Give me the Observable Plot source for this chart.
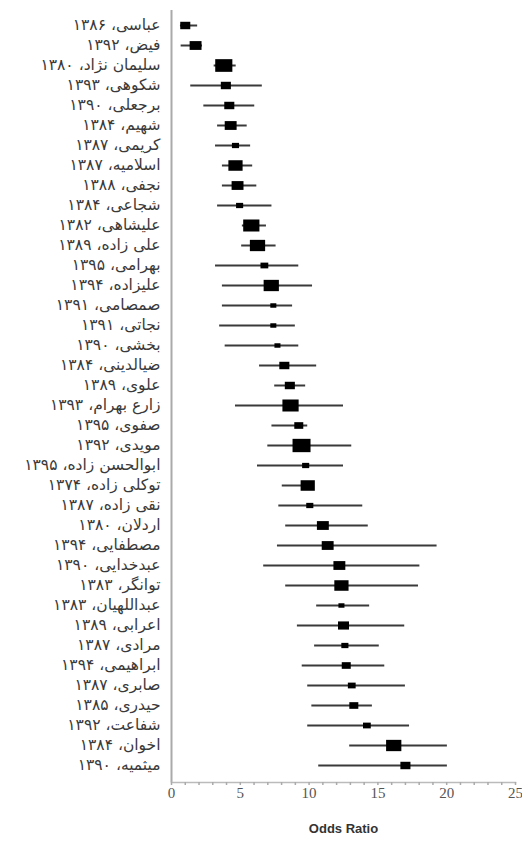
<!DOCTYPE html>
<html>
<head>
<meta charset="utf-8">
<script src="https://cdn.jsdelivr.net/npm/d3@7"></script>
<script src="https://cdn.jsdelivr.net/npm/@observablehq/plot@0.6"></script>
<style>
  html, body { margin: 0; padding: 0; background: #fff; }
  #chart svg { display: block; }
</style>
</head>
<body>
<div id="chart"></div>
<script>
const studies = [
  "عباسی، ۱۳۸۶", "فیض، ۱۳۹۲", "سلیمان نژاد، ۱۳۸۰", "شکوهی، ۱۳۹۳", "برجعلی، ۱۳۹۰",
  "شهیم، ۱۳۸۴", "کریمی، ۱۳۸۷", "اسلامیه، ۱۳۸۷", "نجفی، ۱۳۸۸", "شجاعی، ۱۳۸۴",
  "علیشاهی، ۱۳۸۲", "علی زاده، ۱۳۸۹", "بهرامی، ۱۳۹۵", "علیزاده، ۱۳۹۴", "صمصامی، ۱۳۹۱",
  "نجاتی، ۱۳۹۱", "بخشی، ۱۳۹۰", "ضیالدینی، ۱۳۸۴", "علوی، ۱۳۸۹", "زارع بهرام، ۱۳۹۳",
  "صفوی، ۱۳۹۵", "مویدی، ۱۳۹۲", "ابوالحسن زاده، ۱۳۹۵", "توکلی زاده، ۱۳۷۴", "نقی زاده، ۱۳۸۷",
  "اردلان، ۱۳۸۰", "مصطفایی، ۱۳۹۴", "عبدخدایی، ۱۳۹۰", "توانگر، ۱۳۸۳", "عبداللهیان، ۱۳۸۳",
  "اعرابی، ۱۳۸۹", "مرادی، ۱۳۸۷", "ابراهیمی، ۱۳۹۴", "صابری، ۱۳۸۷", "حیدری، ۱۳۸۵",
  "شفاعت، ۱۳۹۲", "اخوان، ۱۳۸۴", "میثمیه، ۱۳۹۰"
];
const estimate = [
  1.0, 1.75, 3.8, 3.95, 4.2, 4.3, 4.65, 4.65, 4.8, 4.95,
  5.8, 6.25, 6.75, 7.25, 7.4, 7.4, 7.7, 8.2, 8.6, 8.65,
  9.25, 9.45, 9.75, 9.9, 10.05, 11.0, 11.35, 12.2, 12.35, 12.35,
  12.5, 12.6, 12.7, 13.1, 13.25, 14.2, 16.15, 17.0
];
const lower = [
  0.65, 0.7, 3.1, 1.4, 2.35, 3.35, 3.2, 3.7, 3.7, 3.35,
  5.15, 5.1, 3.2, 3.7, 3.7, 3.5, 3.9, 6.4, 7.5, 4.65,
  7.3, 7.0, 6.25, 8.05, 7.8, 8.3, 7.7, 6.7, 8.3, 10.55,
  9.15, 10.4, 9.5, 9.9, 10.2, 9.9, 12.95, 10.7
];
const upper = [
  1.9, 2.25, 4.7, 6.6, 6.05, 5.5, 5.75, 5.9, 6.2, 7.3,
  6.9, 7.6, 9.25, 10.25, 8.8, 9.0, 9.25, 10.55, 9.75, 12.5,
  9.9, 13.1, 12.5, 10.3, 13.9, 14.3, 19.3, 18.05, 17.95, 14.4,
  16.95, 15.1, 15.5, 17.0, 14.6, 17.3, 20.05, 20.05
];
const weight = [
  1.0, 1.4, 2.9, 1.0, 1.0, 1.4, 0.5, 2.0, 1.4, 0.5,
  2.6, 2.3, 0.6, 2.3, 0.36, 0.36, 0.36, 1.0, 1.0, 2.6,
  0.8, 3.2, 0.5, 2.0, 0.5, 1.4, 1.4, 1.4, 2.0, 0.36,
  1.2, 0.5, 0.8, 0.6, 0.8, 0.6, 2.3, 1.0
];
const xTicks = [0, 5, 10, 15, 20, 25];

const rows = studies.map((s, i) => ({
  study: s, est: estimate[i], lo: lower[i], hi: upper[i], w: weight[i]
}));

// wide rectangle marker (boxes in the reference are wider than tall)
const boxSymbol = {
  draw(context, size) {
    const w = Math.sqrt(size * 1.35), h = size / w;
    context.rect(-w / 2, -h / 2, w, h);
  }
};

const chart = Plot.plot({
  width: 522,
  height: 846,
  marginLeft: 171,
  marginRight: 7,
  marginTop: 10,
  marginBottom: 64,
  style: { fontFamily: "'DejaVu Sans', sans-serif", background: "#fff" },
  x: { domain: [0, 25] },
  y: { type: "point", domain: studies, insetTop: 8, insetBottom: 10, padding: 0 },
  r: { type: "sqrt", domain: [0, 3.2], range: [0, 8.74] },
  marks: [
    Plot.ruleY(rows, { y: "study", x1: "lo", x2: "hi", stroke: "#3a3a3a", strokeWidth: 2 }),
    Plot.dot(rows, { x: "est", y: "study", r: "w", symbol: boxSymbol, fill: "#000", stroke: "none" }),
    Plot.ruleX([0], { stroke: "#aaa", strokeWidth: 2 }),
    Plot.frame({ anchor: "bottom", stroke: "#bbb", strokeWidth: 1.5 }),
    Plot.axisX({ ticks: d3.range(0, 26), tickSize: 3, text: null, stroke: "#aaa", strokeWidth: 1.5, label: null }),
    Plot.axisX({
      ticks: xTicks, tickSize: 0, tickPadding: 5, fontSize: 15, fill: "#555",
      fontFamily: "'Liberation Serif', serif",
      label: "Odds Ratio", labelAnchor: "center", labelArrow: "none", labelOffset: 50
    }),
    Plot.axisY({ tickSize: 0, tickPadding: 11, fontSize: 15.5, fill: "#3a3a3a", label: null })
  ]
});

// style the axis label
chart.querySelectorAll("text").forEach(t => {
  if (t.textContent === "Odds Ratio") {
    t.setAttribute("font-weight", "bold");
    t.setAttribute("font-size", "13");
    t.setAttribute("fill", "#333");
    t.setAttribute("font-family", "'Liberation Sans', sans-serif");
  }
});

document.getElementById("chart").appendChild(chart);
</script>
</body>
</html>
